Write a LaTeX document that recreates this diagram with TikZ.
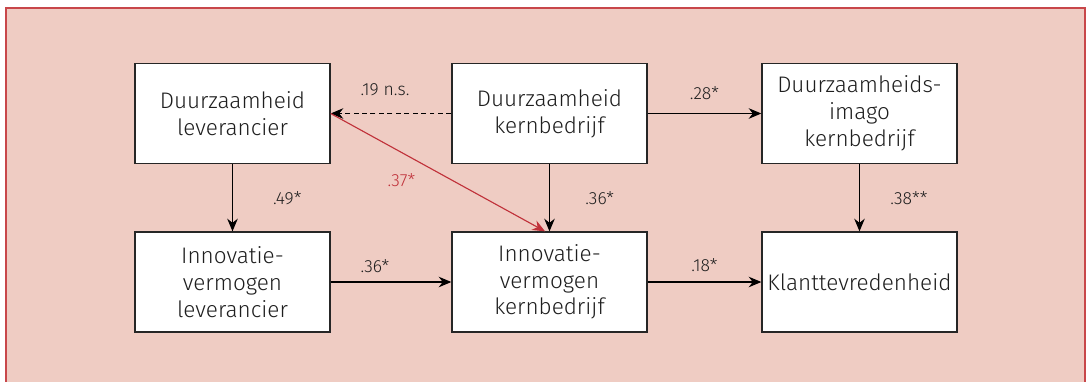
\documentclass[tikz,border=0pt]{standalone}
\usepackage{fontspec}
\setmainfont{Fira Sans Light}
\usepackage{tikz}
\usetikzlibrary{arrows.meta}

\definecolor{framered}{HTML}{C8474A}
\definecolor{bgpink}{HTML}{EFCCC3}
\definecolor{effectred}{HTML}{C0313A}
\definecolor{textgray}{HTML}{1E1E1E}

\tikzset{
  factor/.style={draw=black!85, fill=white, line width=0.9pt,
    minimum width=4.875cm, minimum height=2.5cm, inner sep=0pt,
    align=center, text=textgray, font=\fontsize{16}{19}\selectfont},
  effect/.style={-{Stealth[length=9pt,width=7.5pt]}, line width=0.8pt},
  coef/.style={inner sep=0pt, text=textgray, font=\fontsize{12.5}{14}\selectfont},
}

\begin{document}
\begin{tikzpicture}[x=0.025cm, y=-0.025cm]
    \useasboundingbox (0,0) rectangle (1088,382);

    %% background panel
    \draw[framered, fill=bgpink, line width=0.8pt] (6,8) rectangle (1085,420);

    %% the six factors
    \node[factor] (dlev)   at (232.5,113.5) {Duurzaamheid\\leverancier};
    \node[factor] (dkern)  at (549.5,113.5) {Duurzaamheid\\kernbedrijf};
    \node[factor] (dimago) at (859.5,113.5) {Duurzaamheids-\\imago\\kernbedrijf};
    \node[factor] (ilev)   at (232.5,282) {Innovatie-\\vermogen\\leverancier};
    \node[factor] (ikern)  at (549.5,282) {Innovatie-\\vermogen\\kernbedrijf};
    \node[factor] (klant)  at (859.5,282) {Klanttevredenheid};

    %% top row
    \draw[effect, dash pattern=on 3.5pt off 2.5pt] (dkern) -- (dlev)
      node[coef, midway, above=0.42cm, xshift=-0.15cm] {.19 n.s.};
    \draw[effect] (dkern) -- (dimago)
      node[coef, midway, above=0.33cm] {.28*};

    %% downward paths
    \draw[effect] (dlev) -- (ilev)
      node[coef, midway, right=1.0cm] {.49*};
    \draw[effect] (dkern) -- (ikern)
      node[coef, midway, right=0.88cm] {.36*};
    \draw[effect] (dimago) -- (klant)
      node[coef, midway, right=0.76cm] {.38**};

    %% bottom row
    \draw[effect] (ilev) -- (ikern)
      node[coef, midway, above=0.22cm, xshift=-0.4cm] {.36*};
    \draw[effect] (ikern) -- (klant)
      node[coef, midway, above=0.25cm] {.18*};

    %% cross path
    \draw[effect, effectred] (dlev.east) -- (ikern.95)
      node[coef, text=effectred, pos=0.33, below=0.52cm] {.37*};
\end{tikzpicture}
\end{document}
